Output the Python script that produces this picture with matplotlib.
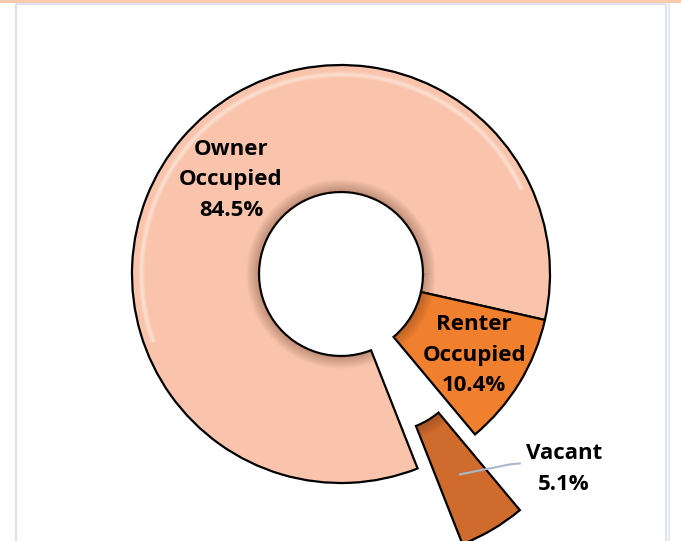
import numpy as np
import matplotlib
matplotlib.use("Agg")
import matplotlib.pyplot as plt

labels = ["Owner\nOccupied", "Renter\nOccupied", "Vacant"]
shares = [84.5, 10.4, 5.1]
colors = ["#F9C4AB", "#F07F2E", "#CF6B2C"]
explode = [0, 0, 88]

W, H = 681, 541
cx, cy = 341, H - 274
R, r_in = 209, 82

fig = plt.figure(figsize=(W / 100, H / 100), dpi=100)
ax = fig.add_axes([0, 0, 1, 1])
ax.set_xlim(0, W)
ax.set_ylim(0, H)
ax.set_aspect("equal")
ax.axis("off")

# frame of the chart area
ax.add_patch(plt.Rectangle((0, H - 3), W, 3, color="#F9CBAA", lw=0))
ax.plot([16, 16, 666, 666], [-5, H - 4, H - 4, -5], color="#DCE3EC", lw=1.5)
ax.plot([668.5, 668.5], [-5, H - 4], color="#E6EAF0", lw=1.5)

wedges, _ = ax.pie(shares, colors=colors, explode=explode, startangle=-68.5,
                   counterclock=False, center=(cx, cy), radius=R,
                   wedgeprops=dict(width=R - r_in, edgecolor="black", linewidth=1.6))
ax.set_xlim(0, W)
ax.set_ylim(0, H)

# soft bevel: shadow along the hole, highlight under the upper outer rim
t = np.linspace(0, 2 * np.pi, 400)
th_hi = np.linspace(np.radians(25), np.radians(200), 200)
for w in wedges:
    c = w.center
    for k in range(12):
        ln, = ax.plot(c[0] + (r_in + 1 + k) * np.cos(t), c[1] + (r_in + 1 + k) * np.sin(t),
                      color="#5A3020", lw=1.2, alpha=0.22 * (1 - k / 12))
        ln.set_clip_path(w)
    for k in range(6):
        ln, = ax.plot(c[0] + (R - 7 - k) * np.cos(th_hi), c[1] + (R - 7 - k) * np.sin(th_hi),
                      color="white", lw=1.2, alpha=0.35 * (1 - abs(k - 2.5) / 3.5),
                      solid_capstyle="butt")
        ln.set_clip_path(w)
    w.set_zorder(1)

font = dict(family=["Open Sans", "DejaVu Sans"], fontweight="bold", fontsize=16,
            color="black", ha="center", va="center", linespacing=1.6, zorder=5)

rlab = {0: 145, 1: 156}
for i, w in enumerate(wedges[:2]):
    th = np.radians((w.theta1 + w.theta2) / 2)
    x = w.center[0] + rlab[i] * np.cos(th)
    y = w.center[1] + rlab[i] * np.sin(th)
    ax.text(x, y, f"{labels[i]}\n{shares[i]:.1f}%", **font)

# vacant label with leader line
w = wedges[2]
th = np.radians((w.theta1 + w.theta2) / 2)
px = w.center[0] + 145 * np.cos(th)
py = w.center[1] + 145 * np.sin(th)
ax.plot([px, px + 50, px + 60], [py, py + 10, py + 11], color="#A9B8CB", lw=1.5, zorder=4)
ax.text(564, H - 469, f"{labels[2]}\n{shares[2]:.1f}%", **font)

fig.savefig("out.png", dpi=100)
